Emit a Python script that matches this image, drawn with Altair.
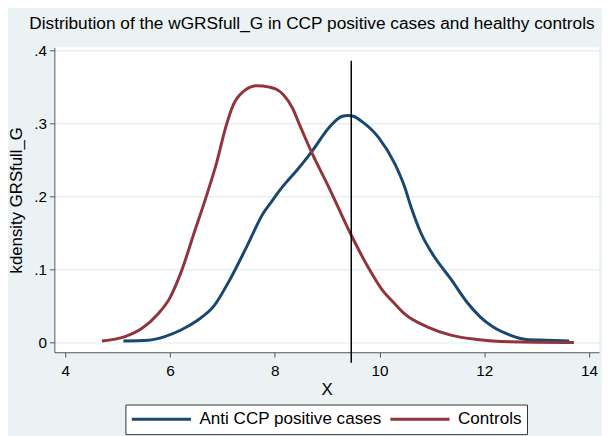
import altair as alt
import pandas as pd

# Anti CCP positive cases (blue)
cases_x = [5.11, 5.58, 5.90, 6.21, 6.52, 6.84, 7.15, 7.47, 7.78, 7.95, 8.09, 8.25, 8.41, 8.72, 9.03, 9.29, 9.40, 9.50,
           9.66, 9.98, 10.29, 10.48, 10.60, 10.79, 11.04, 11.36, 11.67, 11.92, 12.17, 12.49, 12.80, 13.18, 13.62]
cases_y = [0.002, 0.003, 0.008, 0.017, 0.030, 0.050, 0.087, 0.132, 0.177, 0.194, 0.208, 0.222, 0.235, 0.263, 0.294, 0.310, 0.311, 0.310,
           0.303, 0.281, 0.245, 0.213, 0.186, 0.150, 0.118, 0.087, 0.055, 0.035, 0.021, 0.010, 0.004, 0.003, 0.002]

# Controls (red)
ctrl_x = [4.70, 5.14, 5.46, 5.77, 5.99, 6.21, 6.46, 6.71, 6.90, 7.06, 7.21, 7.40, 7.65, 7.90, 8.03, 8.16, 8.34, 8.47,
          8.72, 9.03, 9.44, 9.79, 10.04, 10.29, 10.48, 10.92, 11.36, 11.86, 12.49, 13.71]
ctrl_y = [0.002, 0.008, 0.019, 0.039, 0.060, 0.096, 0.150, 0.204, 0.249, 0.294, 0.326, 0.344, 0.352, 0.350, 0.347, 0.340, 0.321, 0.299,
          0.258, 0.213, 0.150, 0.102, 0.073, 0.053, 0.039, 0.021, 0.010, 0.004, 0.001, 0.000]

series_names = ["Anti CCP positive cases", "Controls"]
series_colors = ["#1a476f", "#90353b"]

vline_x = [9.46]
vline_top = [0.386]
vline_bottom = [-0.028]

x_ticks = [4, 6, 8, 10, 12, 14]
y_ticks = [0, 0.1, 0.2, 0.3, 0.4]

rows = []
for i, (x, y) in enumerate(zip(cases_x, cases_y)):
    rows.append({"x": x, "y": y, "series": series_names[0], "o": i})
for i, (x, y) in enumerate(zip(ctrl_x, ctrl_y)):
    rows.append({"x": x, "y": y, "series": series_names[1], "o": i})
df = pd.DataFrame(rows)

vdf = pd.DataFrame({"x": vline_x, "top": vline_top, "bottom": vline_bottom})

xscale = alt.Scale(domain=[3.793, 14.19], nice=False, zero=False)
yscale = alt.Scale(domain=[-0.0135, 0.4045], nice=False, zero=False)

FONT = "Liberation Sans"

lines = alt.Chart(df).mark_line(strokeWidth=3, interpolate="monotone").encode(
    x=alt.X("x:Q", scale=xscale,
            axis=alt.Axis(values=x_ticks, title="X", grid=False, format="d",
                          labelFontSize=15.5, titleFontSize=17, titleFontWeight="normal",
                          titlePadding=2, labelPadding=7, tickSize=5,
                          domainColor="#555555", tickColor="#555555",
                          labelColor="#000000", titleColor="#000000",
                          labelFont=FONT, titleFont=FONT)),
    y=alt.Y("y:Q", scale=yscale,
            axis=alt.Axis(values=y_ticks, title="kdensity GRSfull_G", grid=True,
                          gridColor="#e6f0f1", gridWidth=1.5,
                          labelExpr="datum.value == 0 ? '0' : replace(format(datum.value, '.1f'), '0.', '.')",
                          labelFontSize=15.5, titleFontSize=17, titleFontWeight="normal",
                          titlePadding=8, labelPadding=3, tickSize=5,
                          domainColor="#555555", tickColor="#555555",
                          labelColor="#000000", titleColor="#000000",
                          labelFont=FONT, titleFont=FONT)),
    color=alt.Color("series:N", scale=alt.Scale(domain=series_names, range=series_colors),
                    legend=alt.Legend(title=None, orient="none", direction="horizontal",
                                      legendX=72, legendY=362,
                                      symbolType="stroke", symbolSize=3600, symbolStrokeWidth=3,
                                      clipHeight=20, labelLimit=400,
                                      labelFontSize=17.3, labelFont=FONT, labelColor="#000000",
                                      labelOffset=7, columnPadding=7, padding=5,
                                      fillColor="#ffffff", strokeColor="#333333")),
    order="o:Q",
)

vline = alt.Chart(vdf).mark_rule(color="#000000", strokeWidth=1.5, clip=False).encode(
    x=alt.X("x:Q", scale=xscale),
    y=alt.Y("top:Q", scale=yscale),
    y2="bottom:Q",
)

chart = alt.layer(lines, vline).properties(
    width=552, height=309,
    title=alt.TitleParams("Distribution of the wGRSfull_G in CCP positive cases and healthy controls",
                          fontSize=17.5, fontWeight="normal", font=FONT, color="#000000",
                          anchor="middle", dx=-15, offset=11),
    autosize=alt.AutoSizeParams(type="none"),
    padding={"left": 47, "right": 3, "top": 37, "bottom": 82},
    background="#eaf2f3",
).configure_view(fill="#ffffff", stroke=None)

chart.save("out.html", embed_options={"renderer": "svg", "actions": False})
